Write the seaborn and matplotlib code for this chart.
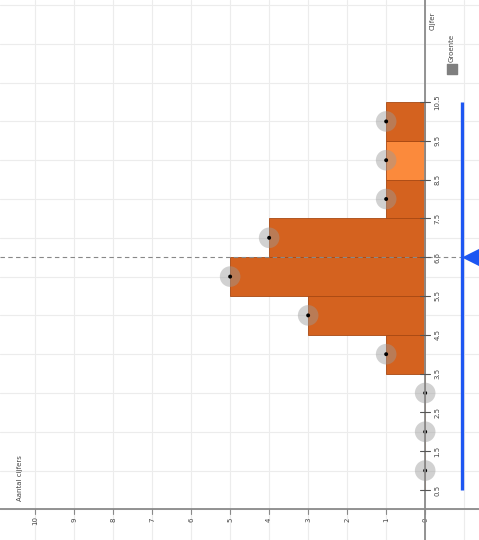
import matplotlib
matplotlib.use('Agg')

import numpy as np
import pandas as pd
import seaborn as sns
import matplotlib.pyplot as plt

sns.set_style("white")
plt.rcParams['font.family'] = ['DejaVu Sans']

# data: number of grades per grade value
cijfers = [1, 2, 3, 4, 5, 6, 7, 8, 9, 10]
aantal = [0, 0, 0, 1, 3, 5, 4, 1, 1, 1]
highlight = 9
count_ticks = [0, 1, 2, 3, 4, 5, 6, 7, 8, 9, 10]
cijfer_ticks = [0.5, 1.5, 2.5, 3.5, 4.5, 5.5, 6.5, 7.5, 8.5, 9.5, 10.5]
gemiddelde = 6.5

bar_color = "#d4621f"
light_color = "#fb8a3c"
grid_color = "#ececec"
axis_color = "#8a8a8a"
blue = "#1d56f2"

df = pd.DataFrame({"cijfer": cijfers, "aantal": aantal})

fig = plt.figure(figsize=(4.79, 5.4), dpi=100)
ax = fig.add_axes([0, 0, 1, 1])

# grid
for c in range(-1, 11):
    ax.axvline(c, color=grid_color, lw=0.8, zorder=0)
for v in range(0, 14):
    ax.axhline(v, color=grid_color, lw=0.8, zorder=0)

sns.barplot(data=df, x="aantal", y="cijfer", orient="h", native_scale=True,
            width=1, color=bar_color, edgecolor="#a84812", linewidth=0.6,
            saturation=1, ax=ax, zorder=2)
for p, c in zip(ax.patches, cijfers):
    if c == highlight:
        p.set_facecolor(light_color)

# points
sns.scatterplot(data=df, x="aantal", y="cijfer", s=220, color="#9a9a9a",
                alpha=0.45, edgecolor="none", ax=ax, zorder=3, legend=False)
sns.scatterplot(data=df, x="aantal", y="cijfer", s=8, color="black",
                edgecolor="none", ax=ax, zorder=4, legend=False)

# axes lines
ax.axvline(0, color=axis_color, lw=1.3, zorder=5)
ax.axhline(0, color=axis_color, lw=1.3, zorder=5)

# mean line
ax.plot([10.9, -0.95], [gemiddelde, gemiddelde], color="#888888", lw=0.8,
        ls=(0, (4, 3)), zorder=4)
ax.plot([-0.95, -0.95], [cijfer_ticks[0], cijfer_ticks[-1]], color=blue,
        lw=2.4, zorder=5, solid_capstyle="butt")
ax.plot([-1.18], [gemiddelde], marker="<", markersize=12, color=blue,
        markeredgecolor=blue, zorder=6)

# tick labels
for c in count_ticks:
    ax.plot([c, c], [0, -0.12], color=axis_color, lw=0.8, zorder=5)
    ax.text(c, -0.28, str(c), rotation=90, ha="center", va="center",
            fontsize=5, color="#444444")
for v in cijfer_ticks:
    ax.plot([0.13, -0.13], [v, v], color="#555555", lw=0.8, zorder=5)
    ax.text(-0.32, v, str(v), rotation=90, ha="center", va="center",
            fontsize=5, color="#444444")

ax.text(10.38, 0.81, "Aantal cijfers", rotation=90, ha="center", va="center",
        fontsize=5, color="#444444")
ax.text(-0.2, 12.59, "Cijfer", rotation=90, ha="center", va="center",
        fontsize=5, color="#444444")
ax.scatter([-0.69], [11.35], marker="s", s=60, color="#7f7f7f", zorder=5)
ax.text(-0.69, 11.9, "Groente", rotation=90, ha="center", va="center",
        fontsize=5, color="#444444")

ax.set_xlim(10.9, -1.38)
ax.set_ylim(-0.79, 13.13)
ax.set_xlabel("")
ax.set_ylabel("")
ax.set_xticks([])
ax.set_yticks([])
for s in ax.spines.values():
    s.set_visible(False)

plt.savefig("out.png", dpi=100)
